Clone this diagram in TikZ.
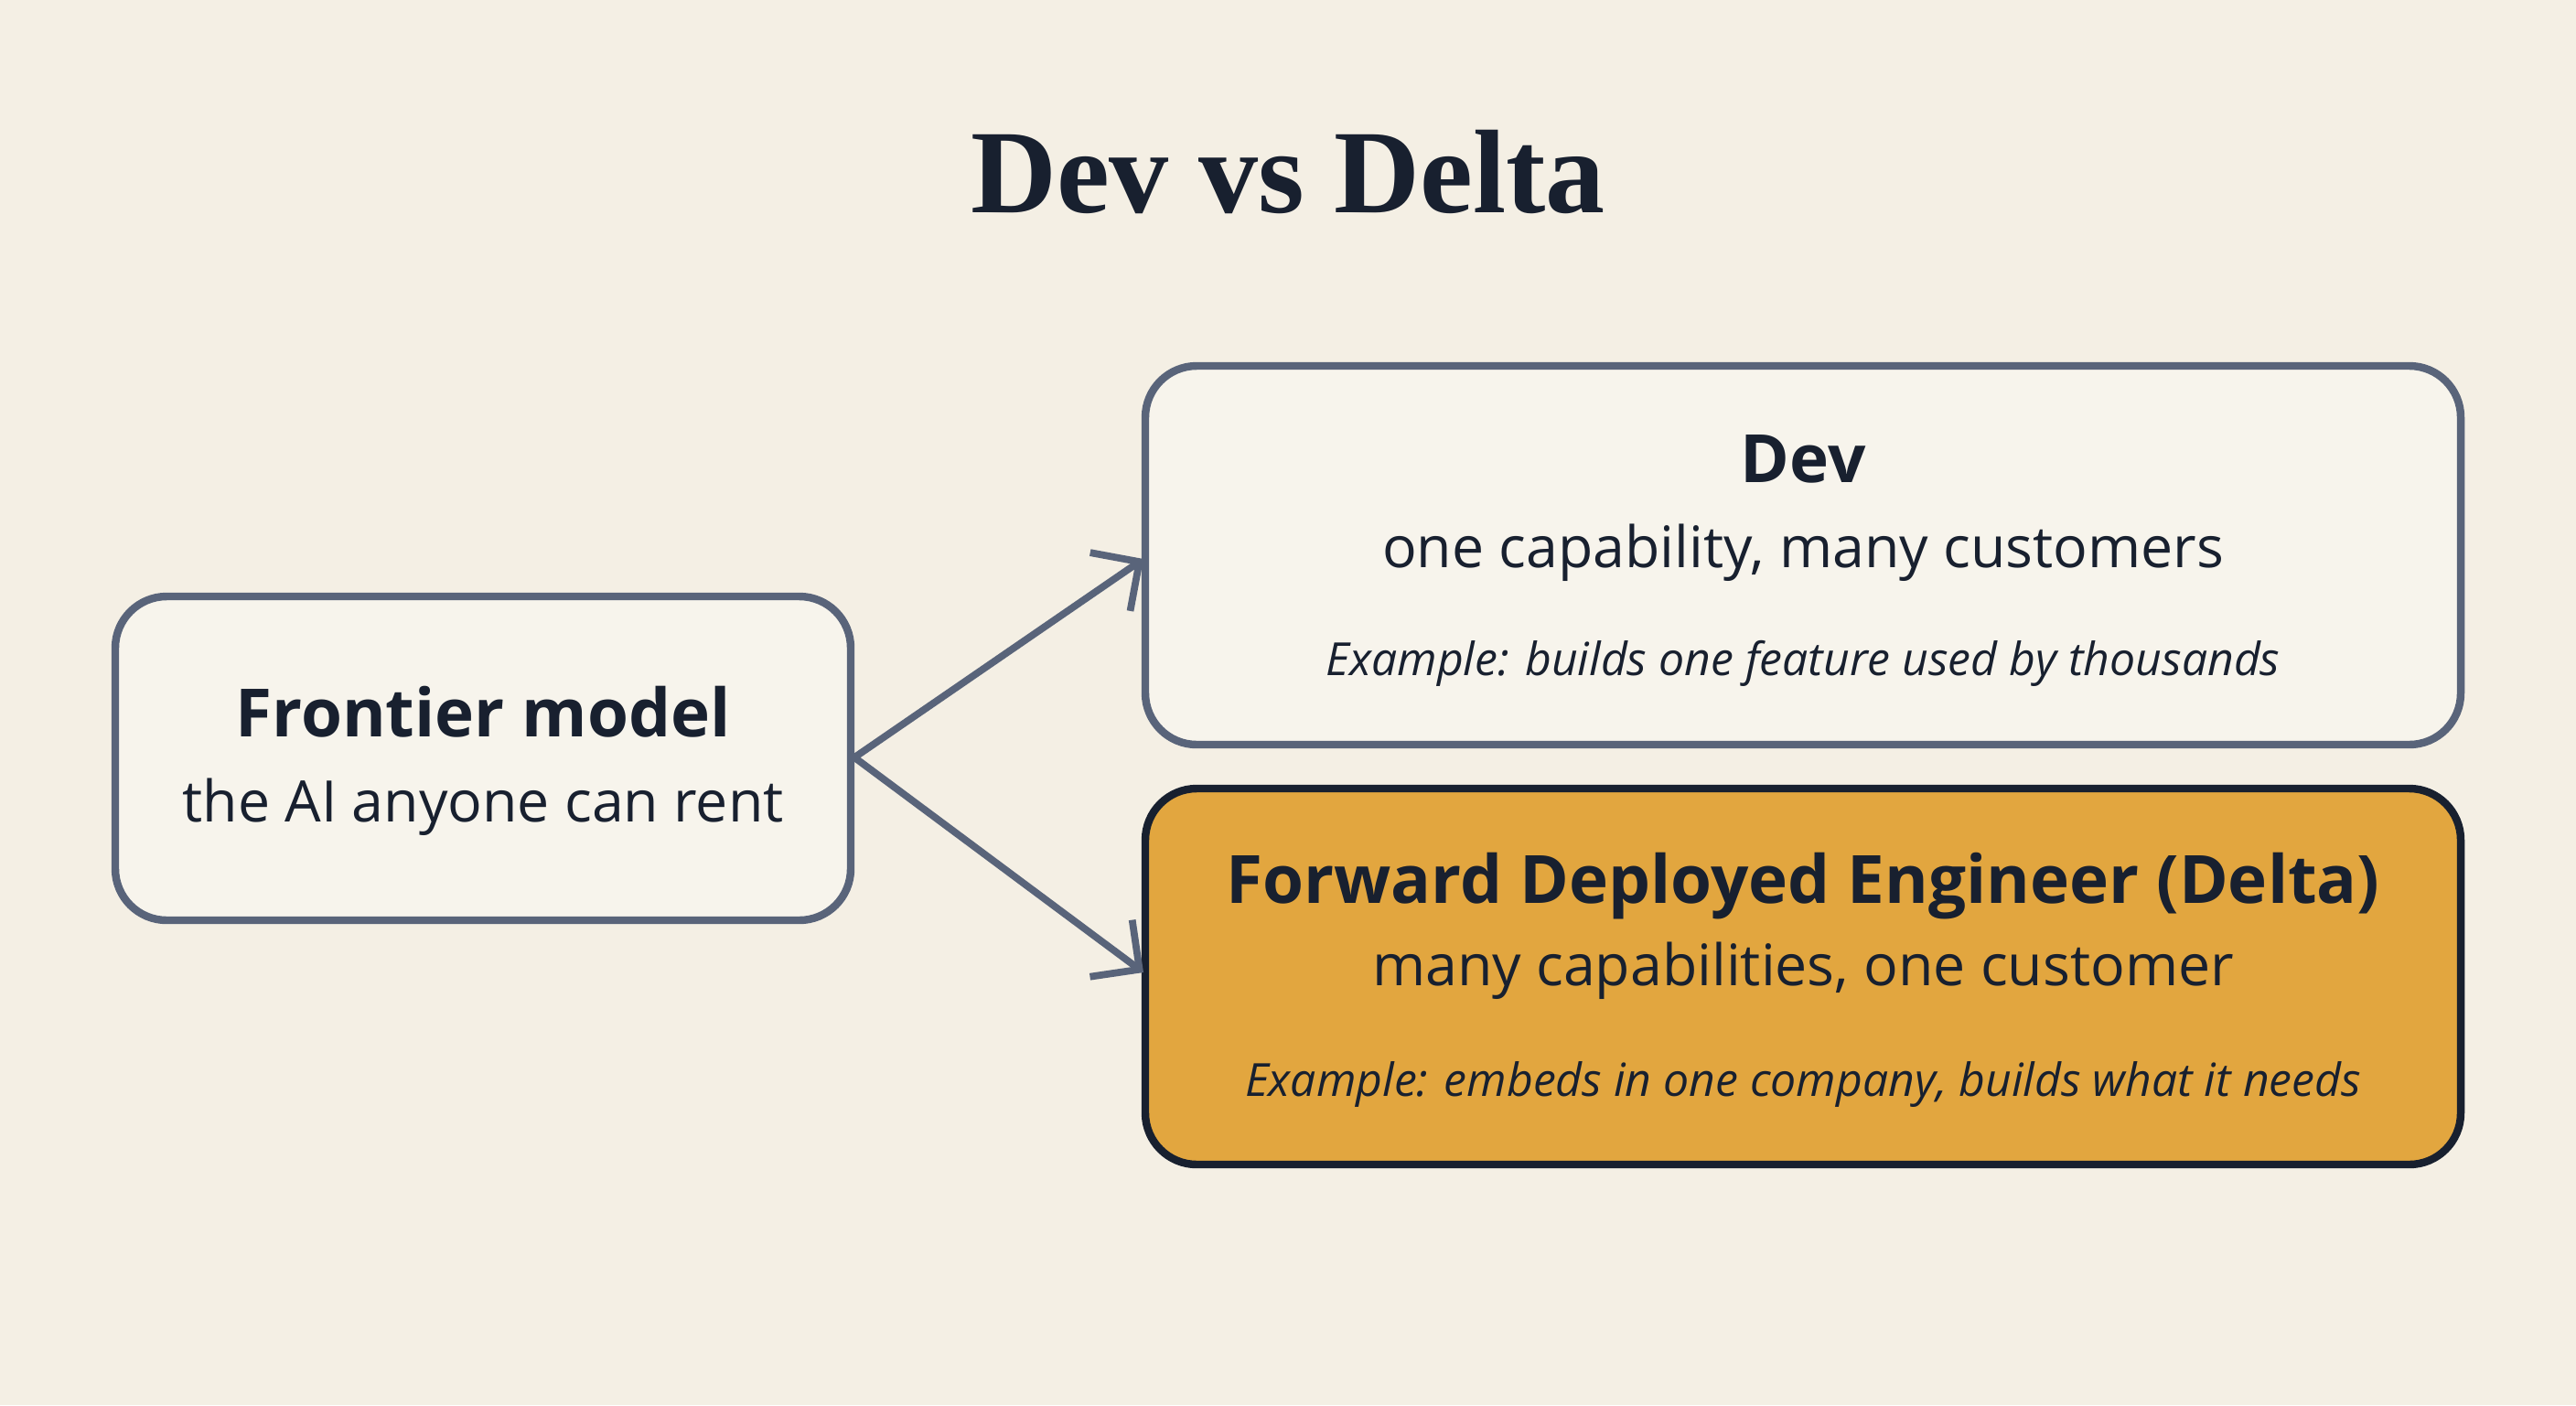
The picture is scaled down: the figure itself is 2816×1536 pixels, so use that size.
\documentclass[tikz,border=0pt]{standalone}
\usepackage{fontspec}
\setmainfont{Open Sans}
\newfontfamily\titlefont{Liberation Serif}
\usetikzlibrary{arrows.meta}
\definecolor{bg}{HTML}{F4EFE4}
\definecolor{edge}{HTML}{59647A}
\definecolor{ink}{HTML}{18202F}
\definecolor{gold}{HTML}{E2A63F}
\begin{document}
\begin{tikzpicture}[x=0.01cm,y=-0.01cm,
  box/.style={draw=edge,line width=2.4pt,rounded corners=16pt,fill=white!30!bg},
  conn/.style={draw=edge,line width=2.2pt,-{Straight Barb[length=11pt,width=22pt,line width=2.2pt]}},
  txt/.style={text=ink,inner sep=0pt,anchor=base}]
\fill[bg] (0,0) rectangle (2816,1536);
\useasboundingbox (0,0) rectangle (2816,1536);
\node[txt,font=\titlefont\bfseries\fontsize{37}{44}\selectfont] (title) at (1408,232) {Dev vs Delta};
\draw[box] (126,652) rectangle (930,1006);
\draw[box] (1252,400) rectangle (2690,814);
\draw[box,fill=gold,draw=ink] (1252,862) rectangle (2690,1273);
\coordinate (src) at (934,828);
\coordinate (devin) at (1250,611);
\coordinate (fdein) at (1250,1063);
\draw[conn] (src) -- (devin);
\draw[conn] (src) -- (fdein);
\node[txt,font=\bfseries\fontsize{20.7}{25}\selectfont] (fm) at (528,805) {Frontier model};
\node[txt,font=\fontsize{17.8}{22}\selectfont] (fms) at (528,898) {the AI anyone can rent};
\node[txt,font=\bfseries\fontsize{20.7}{25}\selectfont] (dev) at (1971,527) {Dev};
\node[txt,font=\fontsize{17.8}{22}\selectfont] (devs) at (1971,620) {one capability, many customers};
\node[txt,font=\itshape\fontsize{14.2}{17}\selectfont] (deve) at (1971,738) {Example: builds one feature used by thousands};
\node[txt,font=\bfseries\fontsize{20.7}{25}\selectfont] (fde) at (1971,987) {Forward Deployed Engineer (Delta)};
\node[txt,font=\fontsize{17.8}{22}\selectfont] (fdes) at (1971,1077) {many capabilities, one customer};
\node[txt,font=\itshape\fontsize{14.2}{17}\selectfont] (fdee) at (1971,1198) {Example: embeds in one company, builds what it needs};
\end{tikzpicture}
\end{document}
